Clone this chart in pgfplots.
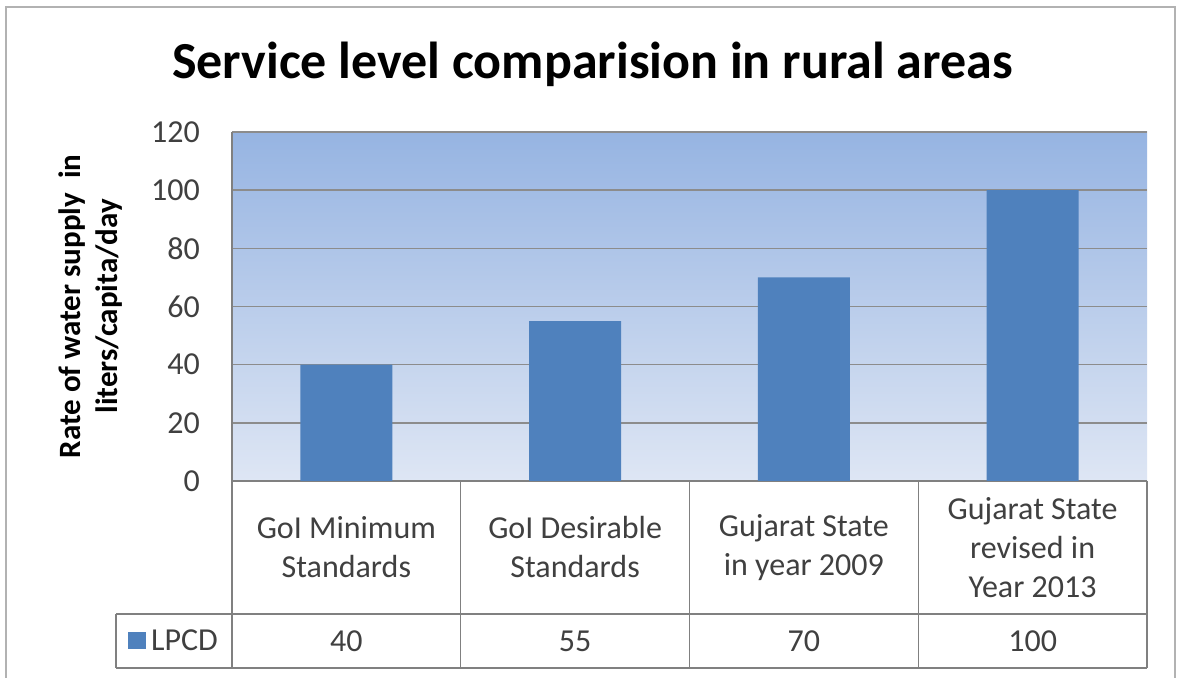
\documentclass[border=0pt]{standalone}
\usepackage{pgfplots}
\pgfplotsset{compat=1.18}
\usepackage{fontspec}
\setmainfont{Carlito}
\definecolor{barblue}{HTML}{4F81BD}
\definecolor{gridgray}{HTML}{8C8C8C}
\definecolor{tablegray}{HTML}{808080}
\definecolor{txtgray}{HTML}{404040}
\definecolor{bgtop}{RGB}{150,180,226}
\definecolor{bgbottom}{RGB}{222,230,244}
\newcommand{\tabfont}{\fontsize{32}{39}\selectfont}

\begin{document}
\begin{tikzpicture}
\path[use as bounding box, fill=white] (0pt,0pt) rectangle (1182pt,677pt);
\draw[gray!60, line width=1.5pt] (6pt,-5pt) -- (6pt,670pt) -- (1175pt,670pt) -- (1175pt,-5pt);

\begin{axis}[
  at={(232pt,196pt)}, anchor=south west,
  scale only axis, width=915pt, height=349pt,
  xmin=-0.5, xmax=3.5, ymin=0, ymax=120,
  ytick={0,20,...,120}, xtick={0,1,2,3},
  xticklabels={{GoI Minimum\\Standards},{GoI Desirable\\Standards},{Gujarat State\\in year 2009},{Gujarat State\\revised in\\Year 2013}},
  axis lines*=left,
  axis line style={tablegray, line width=1.2pt},
  major tick length=0pt,
  ymajorgrids, grid style={gridgray, line width=1.5pt},
  axis background/.style={top color=bgtop, bottom color=bgbottom},
  clip=false,
  /pgf/number format/assume math mode=true,
  yticklabel style={font=\tabfont, text=txtgray, anchor=east, inner sep=0pt, xshift=-32pt},
  xticklabel style={font=\tabfont, text=txtgray, align=center, anchor=center, inner sep=0pt, yshift=-66.5pt},
  title={Service level comparision in rural areas},
  title style={font=\bfseries\fontsize{52}{62}\selectfont, at={(axis description cs:0.394,1.135)}, anchor=base, inner sep=0pt},
  ylabel={Rate of water supply~ in\\liters/capita/day},
  ylabel style={font=\bfseries\fontsize{31}{37}\selectfont, align=center, at={(axis description cs:-0.155,0.5)}, anchor=center},
  legend style={at={(axis description cs:-0.1137,-0.4585)}, anchor=west, draw=none, fill=none,
    font=\tabfont, text=txtgray, inner sep=0pt, nodes={inner sep=5pt}},
]
\addplot[ybar, bar width=92pt, fill=barblue, draw=none,
  legend image code/.code={\fill[barblue] (0pt,-8pt) rectangle (18pt,9pt);}]
  coordinates {(0,40) (1,55) (2,70) (3,100)};
\addlegendentry{LPCD}
\addplot[draw=none, mark=none, forget plot, nodes near coords, point meta=explicit symbolic,
  nodes near coords align={center},
  every node near coord/.append style={font=\tabfont, text=txtgray}]
  coordinates {(0,-55) [40] (1,-55) [55] (2,-55) [70] (3,-55) [100]};
\end{axis}

\draw[tablegray, line width=1.2pt] (116pt,63pt) -- (1147pt,63pt);
\draw[tablegray, line width=1.2pt] (116pt,9pt) -- (1147pt,9pt);
\draw[tablegray, line width=1.2pt] (116pt,63pt) -- (116pt,9pt);
\foreach \xx in {232,460.75,689.5,918.25,1147} {
  \draw[tablegray, line width=1.2pt] (\xx pt,196pt) -- (\xx pt,9pt);
}
\end{tikzpicture}
\end{document}
